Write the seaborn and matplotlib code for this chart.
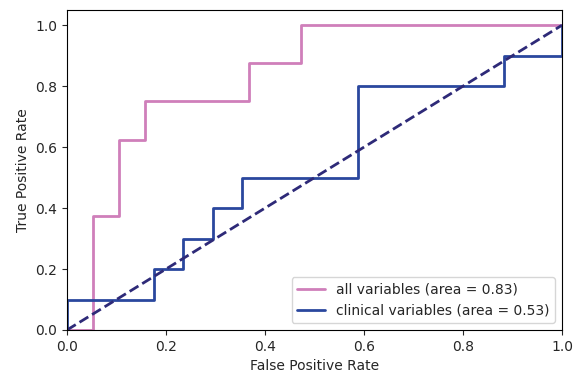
import matplotlib
matplotlib.use("Agg")
import matplotlib.pyplot as plt
import seaborn as sns
import pandas as pd

# ROC curve vertices
all_fpr = [0.0, 0.0526, 0.0526, 0.1053, 0.1053, 0.1579, 0.1579, 0.3684, 0.3684, 0.4737, 0.4737, 1.0]
all_tpr = [0.0, 0.0, 0.375, 0.375, 0.625, 0.625, 0.75, 0.75, 0.875, 0.875, 1.0, 1.0]
clin_fpr = [0.0, 0.0, 0.1765, 0.1765, 0.2353, 0.2353, 0.2941, 0.2941, 0.3529, 0.3529, 0.5882, 0.5882, 0.8824, 0.8824, 1.0, 1.0]
clin_tpr = [0.0, 0.1, 0.1, 0.2, 0.2, 0.3, 0.3, 0.4, 0.4, 0.5, 0.5, 0.8, 0.8, 0.9, 0.9, 1.0]
labels = ["all variables (area = 0.83)", "clinical variables (area = 0.53)"]
diag = [0.0, 1.0]

sns.set_style("ticks")
plt.rcParams['font.family'] = ['DejaVu Sans']

fig = plt.figure(figsize=(5.74, 3.8), dpi=100)
ax = fig.add_axes([0.1167, 0.1316, 0.8623, 0.8421])

df_all = pd.DataFrame({"fpr": all_fpr, "tpr": all_tpr})
df_clin = pd.DataFrame({"fpr": clin_fpr, "tpr": clin_tpr})

sns.lineplot(data=df_all, x="fpr", y="tpr", sort=False, estimator=None,
             color="#cf7fba", lw=2, label=labels[0], ax=ax)
sns.lineplot(data=df_clin, x="fpr", y="tpr", sort=False, estimator=None,
             color="#2a479e", lw=2, label=labels[1], ax=ax)
ax.plot(diag, diag, color="#2e2a78", lw=2, ls="--")

ax.set_xlim(0.0, 1.0)
ax.set_ylim(0.0, 1.05)
ax.set_xlabel("False Positive Rate", fontsize=10)
ax.set_ylabel("True Positive Rate", fontsize=10)
ax.tick_params(labelsize=10)
for s in ax.spines.values():
    s.set_visible(True)
    s.set_color("black")
ax.legend(loc="lower right", fontsize=10, frameon=True)

fig.savefig("out.png", dpi=100)
